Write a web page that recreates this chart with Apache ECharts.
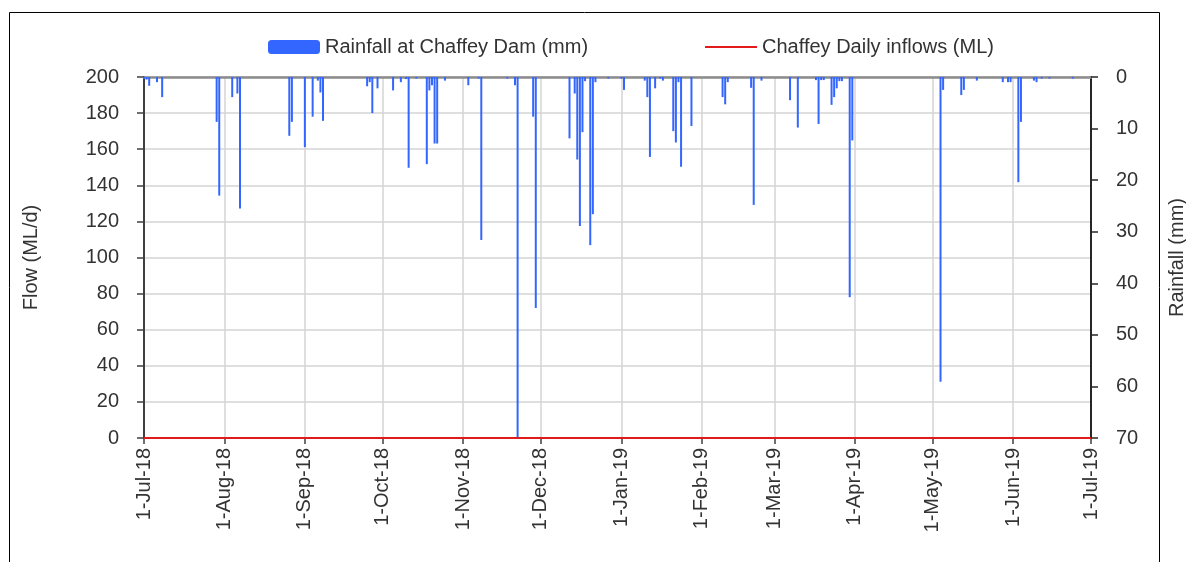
<!DOCTYPE html>
<html>
<head>
<meta charset="utf-8">
<script src="https://cdn.jsdelivr.net/npm/echarts@6/dist/echarts.min.js"></script>
<style>
  html, body { margin: 0; padding: 0; background: #fff; }
  #chart { width: 1186px; height: 562px; }
</style>
</head>
<body>
<div id="chart"></div>
<script>
// rainfall days and their totals in mm
const rainDays = [
  '1-Jul-18', '2-Jul-18', '3-Jul-18', '6-Jul-18', '8-Jul-18', '29-Jul-18', '30-Jul-18',
  '4-Aug-18', '6-Aug-18', '7-Aug-18', '26-Aug-18', '27-Aug-18',
  '1-Sep-18', '4-Sep-18', '6-Sep-18', '7-Sep-18', '8-Sep-18', '25-Sep-18', '26-Sep-18', '27-Sep-18', '29-Sep-18',
  '5-Oct-18', '8-Oct-18', '10-Oct-18', '11-Oct-18', '14-Oct-18', '18-Oct-18', '19-Oct-18', '20-Oct-18', '21-Oct-18', '22-Oct-18', '25-Oct-18',
  '3-Nov-18', '7-Nov-18', '8-Nov-18', '18-Nov-18', '21-Nov-18', '22-Nov-18', '28-Nov-18', '29-Nov-18',
  '12-Dec-18', '14-Dec-18', '15-Dec-18', '16-Dec-18', '17-Dec-18', '18-Dec-18', '20-Dec-18', '21-Dec-18', '22-Dec-18', '27-Dec-18',
  '1-Jan-19', '2-Jan-19', '10-Jan-19', '11-Jan-19', '12-Jan-19', '14-Jan-19', '16-Jan-19', '17-Jan-19', '21-Jan-19', '22-Jan-19', '23-Jan-19', '24-Jan-19', '28-Jan-19',
  '9-Feb-19', '10-Feb-19', '11-Feb-19', '20-Feb-19', '21-Feb-19', '24-Feb-19',
  '7-Mar-19', '10-Mar-19', '17-Mar-19', '18-Mar-19', '19-Mar-19', '20-Mar-19', '23-Mar-19', '24-Mar-19', '25-Mar-19', '26-Mar-19', '27-Mar-19', '30-Mar-19', '31-Mar-19',
  '4-May-19', '5-May-19', '12-May-19', '13-May-19', '18-May-19', '28-May-19', '30-May-19', '31-May-19',
  '3-Jun-19', '4-Jun-19', '9-Jun-19', '10-Jun-19', '12-Jun-19', '15-Jun-19', '24-Jun-19'
];
const rainMm = [
  0.4, 0.5, 1.7, 1.0, 3.9, 8.7, 23.0,
  3.9, 3.2, 25.5, 11.4, 8.7,
  13.6, 7.7, 0.7, 3.0, 8.5, 1.8, 1.0, 7.0, 2.2,
  2.6, 1.0, 0.4, 17.6, 0.3, 16.9, 2.6, 1.6, 12.9, 12.9, 0.7,
  1.6, 0.3, 31.6, 0.3, 1.6, 70, 7.7, 44.8,
  11.9, 3.2, 16.0, 28.9, 10.7, 0.8, 32.6, 26.6, 1.0, 0.3,
  0.3, 2.5, 0.7, 3.9, 15.5, 2.2, 0.3, 0.7, 10.5, 12.7, 1.0, 17.4, 9.5,
  3.9, 5.3, 1.0, 2.1, 24.8, 0.7,
  4.5, 9.8, 0.6, 9.1, 0.6, 0.6, 5.4, 3.9, 2.2, 0.8, 0.8, 42.7, 12.3,
  59.1, 2.5, 3.5, 2.5, 0.7, 1.0, 1.0, 1.0,
  20.4, 8.7, 0.7, 1.0, 0.3, 0.3, 0.3
];

const MONTHS = ['Jan', 'Feb', 'Mar', 'Apr', 'May', 'Jun', 'Jul', 'Aug', 'Sep', 'Oct', 'Nov', 'Dec'];

// daily categories 1-Jul-18 .. 1-Jul-19
const dayLabels = [];
for (let d = new Date(Date.UTC(2018, 6, 1)); d <= new Date(Date.UTC(2019, 6, 1)); d.setUTCDate(d.getUTCDate() + 1)) {
  dayLabels.push(d.getUTCDate() + '-' + MONTHS[d.getUTCMonth()] + '-' + String(d.getUTCFullYear()).slice(2));
}

// inflows read as 0 ML every day of the period
const inflowMl = dayLabels.map(() => 0);

const rainByDay = {};
rainDays.forEach((d, i) => { rainByDay[d] = rainMm[i]; });
const rainSeries = dayLabels.map(d => (d in rainByDay ? rainByDay[d] : 0));

const isMonthStart = (idx, val) => String(val).startsWith('1-');
const FONT = 'Liberation Sans';
const TXT = '#333';

const chart = echarts.init(document.getElementById('chart'));
chart.setOption({
  animation: false,
  textStyle: { fontFamily: FONT },
  graphic: [{
    type: 'rect',
    shape: { x: 9.5, y: 12.5, width: 1150, height: 600 },
    style: { fill: 'none', stroke: '#000', lineWidth: 1 },
    silent: true,
  }],
  legend: {
    left: 263, top: 32,
    itemWidth: 52, itemHeight: 14, itemGap: 116,
    textStyle: { fontSize: 20, color: TXT, fontFamily: FONT },
    data: [
      { name: 'Rainfall at Chaffey Dam (mm)' },
      { name: 'Chaffey Daily inflows (ML)', itemStyle: { opacity: 0 } },
    ],
  },
  grid: { left: 144, right: 95, top: 77, bottom: 124, containLabel: false, outerBoundsMode: 'none' },
  xAxis: [{
    type: 'category',
    data: dayLabels,
    boundaryGap: false,
    position: 'bottom',
    axisLine: { show: true, lineStyle: { color: '#404040', width: 1.5 } },
    axisTick: { show: true, interval: isMonthStart, length: 6, lineStyle: { color: '#404040', width: 1.5 } },
    axisLabel: { interval: isMonthStart, rotate: 90, margin: 10, fontSize: 20, color: TXT, fontFamily: FONT },
    splitLine: { show: true, interval: isMonthStart, lineStyle: { color: '#d4d4d4', width: 1.5 } },
  }, {
    type: 'category',
    data: dayLabels,
    boundaryGap: false,
    position: 'top',
    axisLine: { show: true, lineStyle: { color: '#8c8c8c', width: 2.5 } },
    axisTick: { show: false },
    axisLabel: { show: false },
    splitLine: { show: false },
  }],
  yAxis: [{
    type: 'value',
    min: 0, max: 200, interval: 20,
    name: 'Flow (ML/d)',
    nameLocation: 'middle', nameRotate: 90, nameGap: 103,
    nameTextStyle: { fontSize: 20, color: TXT, fontFamily: FONT },
    axisLine: { show: true, lineStyle: { color: '#404040', width: 2 } },
    axisTick: { show: true, length: 7, lineStyle: { color: '#404040', width: 1.5 } },
    axisLabel: { margin: 25, fontSize: 20, color: TXT, fontFamily: FONT },
    splitLine: { show: true, lineStyle: { color: '#d4d4d4', width: 1.5 } },
  }, {
    type: 'value',
    min: 0, max: 70, interval: 10,
    inverse: true,
    position: 'right',
    name: 'Rainfall (mm)',
    nameLocation: 'middle', nameRotate: 90, nameGap: 76,
    nameTextStyle: { fontSize: 20, color: TXT, fontFamily: FONT },
    axisLine: { show: true, lineStyle: { color: '#262626', width: 2 } },
    axisTick: { show: true, length: 7, lineStyle: { color: '#262626', width: 1.5 } },
    axisLabel: { margin: 25, fontSize: 20, color: TXT, fontFamily: FONT },
    splitLine: { show: false },
  }],
  series: [{
    name: 'Rainfall at Chaffey Dam (mm)',
    type: 'bar',
    xAxisIndex: 0, yAxisIndex: 1,
    barWidth: 2,
    itemStyle: { color: '#3366ff' },
    data: rainSeries,
  }, {
    name: 'Chaffey Daily inflows (ML)',
    type: 'line',
    xAxisIndex: 0, yAxisIndex: 0,
    symbol: 'none',
    lineStyle: { color: '#e31a1c', width: 2 },
    itemStyle: { color: '#e31a1c' },
    z: 5,
    data: inflowMl,
  }],
});
</script>
</body>
</html>
